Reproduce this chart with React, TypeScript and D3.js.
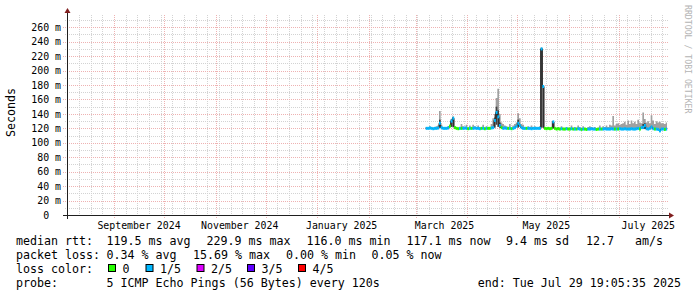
import React from 'react';
import * as d3 from 'd3';

// ---------- data ----------
const endTime = new Date(Date.UTC(2025, 6, 29, 19, 5, 35));
const startTime = new Date(endTime.getTime() - 360 * 864e5);
const firstDataDay = new Date(Date.UTC(2025, 2, 7));

// daily median rtt (ms), Mar 7 .. Jul 29 2025
const medianRtt = [
  120, 120, 120.5, 120, 119.5, 120, 120, 120.5, 127, 121,
  120, 120, 120, 120.5, 123, 130, 134, 121, 120, 119.5,
  120, 120, 120, 120.5, 120, 119.5, 120, 120, 120, 120.5,
  120, 120, 119.5, 120, 120, 119.5, 120, 120, 120, 120.5,
  121, 131, 142, 136, 124, 121, 120, 120.5, 120, 120,
  120, 119.5, 120, 121, 123, 127, 124, 121, 120, 120,
  120, 120, 120, 119.5, 120, 120, 120, 120, 120, 230,
  178, 120, 119.5, 120, 119.5, 120, 129, 120, 119, 119.5,
  119, 119.5, 119, 119, 119.5, 119, 119, 119.5, 119, 119,
  119, 119.5, 119, 118.5, 119, 119, 118.5, 119, 119, 119.5,
  119, 119, 118.5, 119, 119, 119, 119, 119.5, 119, 119,
  119, 119.5, 119, 119, 119, 119, 119.5, 119, 119, 119.5,
  119, 119, 119, 119.5, 119, 119, 119.5, 120, 119, 121,
  121.5, 124, 119.5, 119, 120, 122, 119.5, 119, 119, 118.5,
  116.5, 119, 119, 118.5, 119,
];

// daily max ping (ms)
const pingMax = [
  122, 121, 123, 122, 121, 122, 123, 124, 144, 125,
  122, 121, 122, 123, 125, 133, 136, 123, 122, 121,
  122, 126, 123, 122, 125, 121, 124, 122, 125, 123,
  122, 124, 122, 121, 125, 121, 123, 122, 121, 126,
  134, 140, 162, 175, 140, 128, 126, 124, 123, 122,
  126, 121, 124, 126, 128, 141, 134, 126, 125, 122,
  121, 123, 122, 124, 122, 123, 121, 122, 123, 232,
  180, 122, 121, 122, 121, 122, 130, 121, 121, 122,
  121, 123, 121, 120.5, 122, 121, 121, 124, 121, 122,
  121, 124, 122, 120.5, 123, 121, 120, 122, 123, 122,
  121, 122, 120, 121, 124, 121, 123, 122, 124, 122,
  125, 124, 137, 124, 126, 127, 125, 126, 127, 129,
  125, 131, 126, 131, 127, 129, 126, 132, 128, 127,
  142, 133, 128, 130, 127, 138, 131, 126, 130, 128,
  129, 127, 127, 126, 128,
];

// loss level per day (0 = no loss, 1 = 1/5)
const lossPattern =
  '1111111111' + '1111011000' + '1011101011' + '1110101001' + '1111101110' +
  '1011111111' + '0111111111' + '1000001000' + '0100100101' + '0110100111' +
  '1100101111' + '1110101111' + '1111111101' + '1111111011' + '11101';

// inner (dark) smoke where visible
const darkSmokeDays = [8, 15, 16, 41, 42, 43, 44, 55, 69, 70, 76, 130, 131];
const darkSmokeBottoms = [121, 122, 122, 121, 125, 122, 121, 121, 121, 121, 120, 119, 119];
const darkSmokeTops = [132, 132, 136, 135, 150, 145, 128, 132, 231, 179, 130, 126, 127];

const yTickValues = [0, 20, 40, 60, 80, 100, 120, 140, 160, 180, 200, 220, 240, 260];
const xTickLabels = ['September 2024', 'November 2024', 'January 2025', 'March 2025', 'May 2025', 'July 2025'];
const xTickLabelDates = [
  new Date(Date.UTC(2024, 8, 16, 0)), new Date(Date.UTC(2024, 10, 15, 10)),
  new Date(Date.UTC(2025, 0, 15, 14)), new Date(Date.UTC(2025, 2, 18, 7)),
  new Date(Date.UTC(2025, 4, 18, 9)), new Date(Date.UTC(2025, 6, 18, 14)),
];

const lossColors = ['#26ff00', '#00b8ff', '#dd00ff', '#5e00ff', '#ff0000'];
const lossLabels = ['0', '1/5', '2/5', '3/5', '4/5'];

const legendRtt = ['median rtt:', '119.5 ms avg', '229.9 ms max', '116.0 ms min', '117.1 ms now', '9.4 ms sd', '12.7   am/s'];
const legendLoss = ['packet loss:', '0.34 % avg', '15.69 % max', '0.00 % min', '0.05 % now'];
const lossColorTitle = 'loss color:';
const probeLine = ['probe:', '5 ICMP Echo Pings (56 Bytes) every 120s', 'end: Tue Jul 29 19:05:35 2025'];

// ---------- layout ----------
const W = 697, H = 297;
const X0 = 67, X1 = 667, Y0 = 215, YTOP = 15;
const MONO = "'DejaVu Sans Mono', monospace";
const legendRttX = [16, 106.5, 206.5, 306.5, 406.5, 506, 586];
const legendLossX = [16, 106.5, 193, 286, 371.5];
const lossBoxX = [108, 145.5, 196.5, 247, 298];
const probeX = [16, 106.5, 477.7];
const baselines = [244.8, 258.9, 273, 287.1];

export default function App() {
  const x = d3.scaleUtc().domain([startTime, endTime]).range([X0, X1]);
  const y = d3.scaleLinear().domain([0, 277]).range([Y0, YTOP]);
  const snap = (v: number) => Math.round(v) + 0.5;

  const days = medianRtt.map((m, i) => {
    const t0 = d3.utcDay.offset(firstDataDay, i);
    const t1n = d3.utcDay.offset(firstDataDay, i + 1);
    const t1 = t1n > endTime ? endTime : t1n;
    return { i, t0, t1, med: m, max: pingMax[i], loss: +lossPattern[i] };
  });
  const stepPts = [...days.map(d => ({ t: d.t0, med: d.med, max: d.max })),
    { t: endTime, med: days[days.length - 1].med, max: days[days.length - 1].max }];

  const smokeArea = d3.area<any>()
    .x(d => x(d.t)).y0(d => y(d.med)).y1(d => y(d.max))
    .curve(d3.curveStepAfter);
  const medLine = d3.line<any>().x(d => x(d.t)).y(d => y(d.med)).curve(d3.curveStepAfter);

  const minorY = d3.range(10, 277, 10).filter(v => v % 20 !== 0);
  const weeks = d3.utcSunday.range(startTime, endTime);
  const months = d3.utcMonth.range(startTime, endTime);

  const minorCol = '#d3d3d3';
  const majorCol = '#eeb2b2';

  return (
    <svg width={W} height={H} style={{ position: 'absolute', left: 0, top: 0, background: '#fff' }}
      fontFamily={MONO}>
      <rect x={0} y={0} width={W} height={H} fill="#fff" />
      {/* minor horizontal grid */}
      {minorY.map(v => (
        <line key={'mh' + v} x1={X0 - 2} x2={X1 + 2} y1={snap(y(v))} y2={snap(y(v))}
          stroke={minorCol} strokeWidth={1} strokeDasharray="1,1" />
      ))}
      {/* minor vertical grid (weeks) */}
      {weeks.map(w => (
        <line key={'mv' + w.getTime()} x1={snap(x(w))} x2={snap(x(w))} y1={YTOP} y2={Y0 + 2}
          stroke={minorCol} strokeWidth={1} strokeDasharray="1,1" />
      ))}
      {/* major horizontal grid */}
      {yTickValues.filter(v => v > 0).map(v => (
        <line key={'Mh' + v} x1={X0 - 4} x2={X1 + 2} y1={snap(y(v))} y2={snap(y(v))}
          stroke={majorCol} strokeWidth={1} strokeDasharray="1,1" />
      ))}
      {/* major vertical grid (months) */}
      {months.map(m => (
        <line key={'Mv' + m.getTime()} x1={snap(x(m))} x2={snap(x(m))} y1={YTOP} y2={Y0 + 3}
          stroke={majorCol} strokeWidth={1} strokeDasharray="1,1" />
      ))}

      {/* smoke */}
      <path d={smokeArea(stepPts) || ''} fill="#a0a0a0" />
      {darkSmokeDays.map((di, k) => {
        const d = days[di];
        return (
          <rect key={'ds' + di} x={x(d.t0)} width={x(d.t1) - x(d.t0)}
            y={y(darkSmokeTops[k])} height={y(darkSmokeBottoms[k]) - y(darkSmokeTops[k])}
            fill="#404040" />
        );
      })}
      {/* median dark line */}
      <path d={medLine(stepPts) || ''} fill="none" stroke="#202020" strokeWidth={1} />
      {/* loss-coloured median band */}
      {days.map(d => (
        <rect key={'mb' + d.i} x={x(d.t0)} width={x(d.t1) - x(d.t0) + 0.2}
          y={y(d.med) - 1.5} height={3} fill={lossColors[d.loss]} />
      ))}

      {/* axes */}
      <line x1={X0 - 4} x2={X1 + 4} y1={Y0 + 0.5} y2={Y0 + 0.5} stroke="#1f1f1f" strokeWidth={1} />
      <line x1={X0 + 0.5} x2={X0 + 0.5} y1={Y0 + 4} y2={YTOP - 4} stroke="#1f1f1f" strokeWidth={1} />
      <path d={`M${X1 + 2},${Y0 + 0.5 - 3}L${X1 + 2},${Y0 + 0.5 + 3}L${X1 + 7},${Y0 + 0.5}Z`} fill="#801f1f" />
      <path d={`M${X0 + 0.5 - 3},${YTOP - 2}L${X0 + 0.5 + 3},${YTOP - 2}L${X0 + 0.5},${YTOP - 7}Z`} fill="#801f1f" />

      {/* y tick labels */}
      {yTickValues.map(v => (
        <text key={'yl' + v} x={v === 0 ? 61 - 2 * 5.96 : 61} y={y(v) + 3.6} fontSize={9.9}
          textAnchor="end" fill="#000">{v === 0 ? '0' : `${v} m`}</text>
      ))}
      {/* x tick labels */}
      {xTickLabels.map((lab, k) => (
        <text key={'xl' + k} x={x(xTickLabelDates[k])} y={229} fontSize={9.9}
          textAnchor="middle" fill="#000">{lab}</text>
      ))}

      {/* y axis title */}
      <text transform="translate(15,112.5) rotate(-90)" textAnchor="middle" fontSize={11.65} fill="#000">Seconds</text>
      {/* watermark */}
      <text transform="translate(684.5,5) rotate(90)" fontSize={8.2} fill="#b4b4b4">RRDTOOL / TOBI OETIKER</text>

      {/* legend */}
      <g fontSize={11.65} fill="#000" style={{ whiteSpace: 'pre' }}>
        {legendRtt.map((s, k) => (
          <text key={'lr' + k} x={legendRttX[k]} y={baselines[0]} xmlSpace="preserve">{s}</text>
        ))}
        {legendLoss.map((s, k) => (
          <text key={'ll' + k} x={legendLossX[k]} y={baselines[1]} xmlSpace="preserve">{s}</text>
        ))}
        <text x={16} y={baselines[2]}>{lossColorTitle}</text>
        {lossLabels.map((s, k) => (
          <g key={'lc' + k}>
            <rect x={lossBoxX[k] + 0.5} y={264.5} width={7} height={7} fill={lossColors[k]} stroke="#000" strokeWidth={1} />
            <text x={lossBoxX[k] + 14.5} y={baselines[2]}>{s}</text>
          </g>
        ))}
        {probeLine.map((s, k) => (
          <text key={'pl' + k} x={probeX[k]} y={baselines[3]} xmlSpace="preserve">{s}</text>
        ))}
      </g>
    </svg>
  );
}
